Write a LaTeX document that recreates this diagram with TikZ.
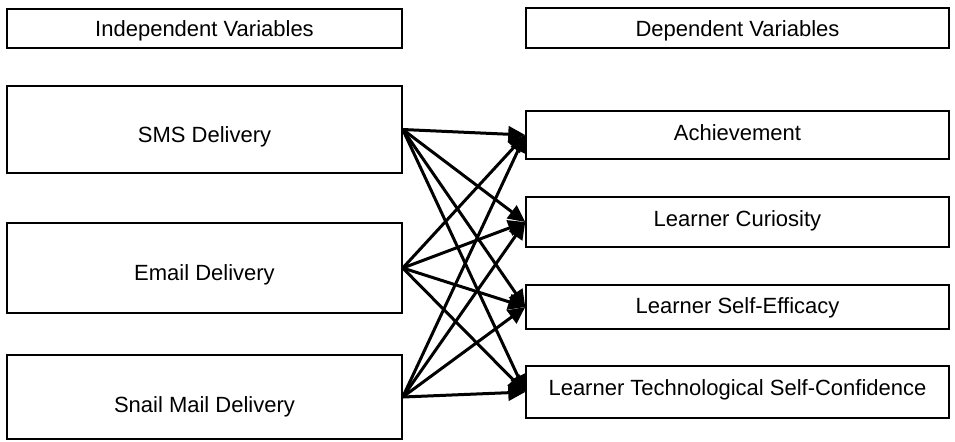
\documentclass[tikz,border=0pt]{standalone}
\usepackage{fontspec}
\setmainfont{Liberation Sans}
\usetikzlibrary{arrows.meta}

\begin{document}
\begin{tikzpicture}[x=0.5pt,y=-0.5pt,
    box/.style={draw,line width=0.75pt,inner sep=0pt,text height=8pt,text depth=0pt,
      font=\fontsize{11}{13}\selectfont},
    ivbox/.style={box,minimum width=197.5pt},
    dvbox/.style={box,minimum width=211.5pt}]
      \useasboundingbox (0,0) rectangle (955,441);
      \draw
        (204.5, 28.5) node[ivbox,minimum height=19.5pt] (iv){Independent Variables}
        (737.5, 28) node[dvbox,minimum height=20pt] (dv){Dependent Variables}
        (204.5, 129.5) node[ivbox,minimum height=43.5pt,text height=12.5pt] (sms){SMS Delivery}
        (204.5, 268) node[ivbox,minimum height=45pt,text height=12.5pt] (email){Email Delivery}
        (204.5, 397) node[ivbox,minimum height=42pt,text height=15.5pt] (snail){Snail Mail Delivery}
        (737.5, 135) node[dvbox,minimum height=24pt,text depth=2.5pt] (ach){Achievement}
        (737.5, 222) node[dvbox,minimum height=25pt,text depth=4pt] (cur){Learner Curiosity}
        (737.5, 307) node[dvbox,minimum height=22pt,text depth=1.5pt] (eff){Learner Self-Efficacy}
        (737.5, 392) node[dvbox,minimum height=26pt,text depth=5pt] (tech){Learner Technological Self-Confidence};
      \begin{scope}[-{Triangle[length=8.5pt,width=8pt]},line width=1.5pt]
        \draw (sms.east) to (ach.west);
        \draw (sms.east) to (cur.west);
        \draw (sms.east) to (eff.west);
        \draw (sms.east) to (tech.west);
        \draw (email.east) to (ach.west);
        \draw (email.east) to (cur.west);
        \draw (email.east) to (eff.west);
        \draw (email.east) to (tech.west);
        \draw (snail.east) to (ach.west);
        \draw (snail.east) to (cur.west);
        \draw (snail.east) to (eff.west);
        \draw (snail.east) to (tech.west);
      \end{scope}
    \end{tikzpicture}
\end{document}
